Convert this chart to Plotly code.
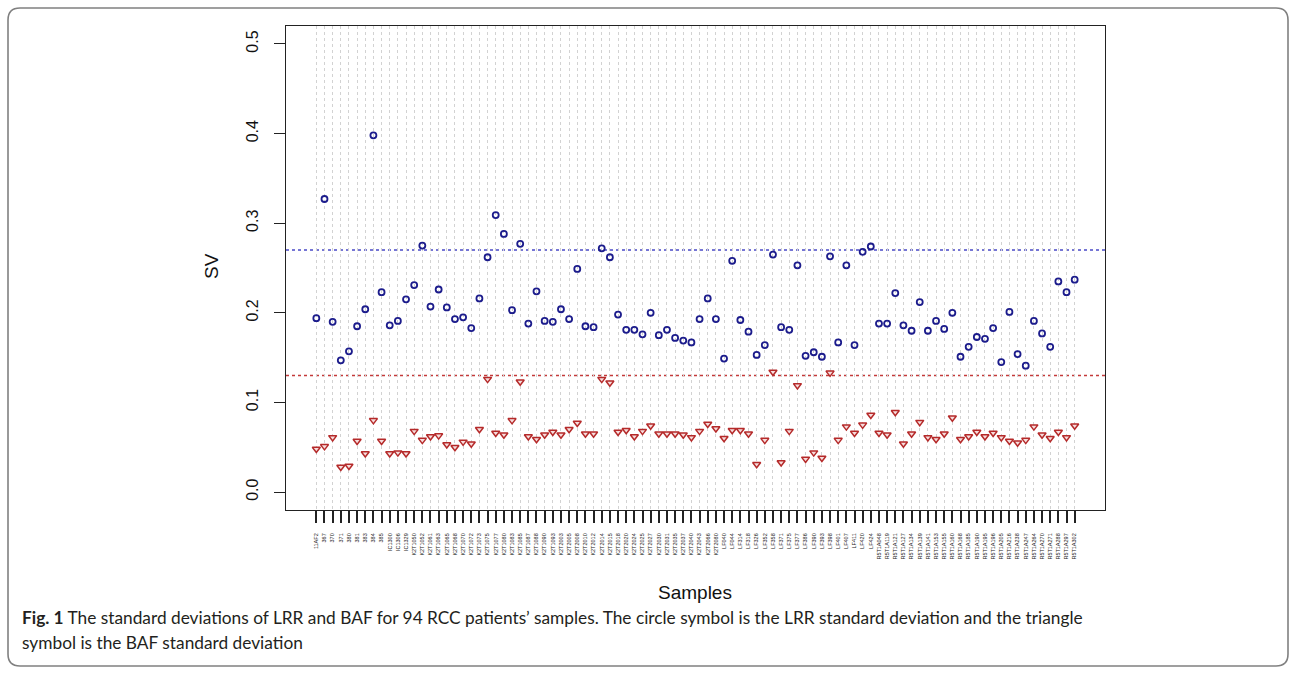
import plotly.graph_objects as go

# Standard deviations per sample (94 RCC patients)
lrr_sd = [0.194, 0.327, 0.190, 0.147, 0.157, 0.185, 0.204, 0.398, 0.223, 0.186,
          0.191, 0.215, 0.231, 0.275, 0.207, 0.226, 0.206, 0.193, 0.195, 0.183,
          0.216, 0.262, 0.309, 0.288, 0.203, 0.277, 0.188, 0.224, 0.191, 0.190,
          0.204, 0.193, 0.249, 0.185, 0.184, 0.272, 0.262, 0.198, 0.181, 0.181,
          0.176, 0.200, 0.175, 0.181, 0.172, 0.169, 0.167, 0.193, 0.216, 0.193,
          0.149, 0.258, 0.192, 0.179, 0.153, 0.164, 0.265, 0.184, 0.181, 0.253,
          0.152, 0.156, 0.151, 0.263, 0.167, 0.253, 0.164, 0.268, 0.274, 0.188,
          0.188, 0.222, 0.186, 0.180, 0.212, 0.180, 0.191, 0.182, 0.200, 0.151,
          0.162, 0.173, 0.171, 0.183, 0.145, 0.201, 0.154, 0.141, 0.191, 0.177,
          0.162, 0.235, 0.223, 0.237]

baf_sd = [0.048, 0.051, 0.061, 0.028, 0.029, 0.057, 0.043, 0.080, 0.057, 0.043,
          0.044, 0.043, 0.068, 0.058, 0.062, 0.063, 0.053, 0.050, 0.056, 0.054,
          0.070, 0.126, 0.066, 0.064, 0.080, 0.123, 0.062, 0.059, 0.064, 0.067,
          0.064, 0.070, 0.077, 0.065, 0.065, 0.126, 0.122, 0.067, 0.069, 0.062,
          0.068, 0.074, 0.065, 0.065, 0.065, 0.064, 0.061, 0.068, 0.076, 0.071,
          0.060, 0.069, 0.069, 0.065, 0.031, 0.058, 0.134, 0.033, 0.068, 0.119,
          0.037, 0.044, 0.038, 0.133, 0.058, 0.073, 0.066, 0.075, 0.086, 0.066,
          0.064, 0.089, 0.054, 0.065, 0.078, 0.061, 0.059, 0.065, 0.083, 0.059,
          0.062, 0.067, 0.062, 0.066, 0.061, 0.057, 0.055, 0.058, 0.073, 0.064,
          0.060, 0.067, 0.061, 0.074]

sample_ids = (
    ["11AF2"]
    + ["367", "370", "371", "380", "381", "383", "384", "385"]
    + ["IC1300", "IC1306", "IC1329"]
    + ["K2T1050", "K2T1052", "K2T1061", "K2T1063", "K2T1065", "K2T1068", "K2T1070",
       "K2T1072", "K2T1073", "K2T1075", "K2T1077", "K2T1080", "K2T1083", "K2T1085",
       "K2T1087", "K2T1088", "K2T1090", "K2T1093", "K2T2003", "K2T2005", "K2T2008",
       "K2T2010", "K2T2012", "K2T2014", "K2T2015", "K2T2018", "K2T2020", "K2T2024",
       "K2T2025", "K2T2027", "K2T2030", "K2T2031", "K2T2035", "K2T2037", "K2T2040",
       "K2T2043", "K2T2066", "K2T2080"]
    + ["LF040", "LF044", "LF314", "LF318", "LF326", "LF352", "LF358", "LF371",
       "LF375", "LF377", "LF386", "LF390", "LF393", "LF398", "LF401", "LF407",
       "LF411", "LF420", "LF424"]
    + ["R5T1A048", "R5T1A119", "R5T1A121", "R5T1A127", "R5T1A134", "R5T1A139",
       "R5T1A141", "R5T1A153", "R5T1A155", "R5T1A160", "R5T1A168", "R5T1A185",
       "R5T1A190", "R5T1A195", "R5T1A196", "R5T1A205", "R5T1A216", "R5T1A238",
       "R5T1A247", "R5T1A264", "R5T1A270", "R5T1A271", "R5T1A288", "R5T1A297",
       "R5T1A302"]
)

lrr_cut = 0.27
baf_cut = 0.13
y_ticks = [0.0, 0.1, 0.2, 0.3, 0.4, 0.5]

x = list(range(1, len(lrr_sd) + 1))

W, H = 1296, 676
PL, PR, PT, PB = 286, 1105, 26, 510  # plot box in pixels
FONT = "Liberation Sans, Arial, sans-serif"
CAPTION_FONT = "Lato, sans-serif"


def px(xp):
    return (xp - PL) / (PR - PL)


def py(yp):
    return (PB - yp) / (PB - PT)


fig = go.Figure()

fig.add_trace(go.Scatter(
    x=x, y=lrr_sd, mode="markers", name="LRR",
    marker=dict(symbol="circle-open", size=6, color="#1c1c8c",
                line=dict(width=1.8, color="#1c1c8c")),
))
fig.add_trace(go.Scatter(
    x=x, y=baf_sd, mode="markers", name="BAF",
    marker=dict(symbol="triangle-down", size=7, color="#f6dcdc",
                line=dict(width=1.5, color="#b52a2a")),
))

shapes = [
    dict(type="line", xref="paper", yref="y", x0=0, x1=1, y0=lrr_cut, y1=lrr_cut,
         line=dict(color="#4a4ac8", width=1.5, dash="dot"), layer="below"),
    dict(type="line", xref="paper", yref="y", x0=0, x1=1, y0=baf_cut, y1=baf_cut,
         line=dict(color="#c43a3a", width=1.5, dash="dot"), layer="below"),
]

# Rounded frame around figure and caption
fx0, fy0, fx1, fy1, r = 8, 8, 1288, 666, 12
path = (
    f"M {px(fx0 + r)},{py(fy0)} L {px(fx1 - r)},{py(fy0)} "
    f"Q {px(fx1)},{py(fy0)} {px(fx1)},{py(fy0 + r)} "
    f"L {px(fx1)},{py(fy1 - r)} Q {px(fx1)},{py(fy1)} {px(fx1 - r)},{py(fy1)} "
    f"L {px(fx0 + r)},{py(fy1)} Q {px(fx0)},{py(fy1)} {px(fx0)},{py(fy1 - r)} "
    f"L {px(fx0)},{py(fy0 + r)} Q {px(fx0)},{py(fy0)} {px(fx0 + r)},{py(fy0)} Z"
)
shapes.append(dict(type="path", xref="paper", yref="paper", path=path,
                   line=dict(color="#808080", width=1.6)))

annotations = [
    dict(text="Samples", xref="paper", yref="paper", x=px(695), y=py(592),
         showarrow=False, font=dict(family=FONT, size=19, color="#111"),
         xanchor="center", yanchor="middle"),
    dict(text="SV", xref="paper", yref="paper", x=px(211), y=py(266),
         showarrow=False, textangle=-90, font=dict(family=FONT, size=19, color="#111"),
         xanchor="center", yanchor="middle"),
    dict(text="<b>Fig. 1</b> The standard deviations of LRR and BAF for 94 RCC patients’ samples. "
              "The circle symbol is the LRR standard deviation and the triangle",
         xref="paper", yref="paper", x=px(20), y=py(617), showarrow=False,
         xanchor="left", yanchor="middle",
         font=dict(family=CAPTION_FONT, size=17.3, color="#231f20")),
    dict(text="symbol is the BAF standard deviation",
         xref="paper", yref="paper", x=px(20), y=py(642), showarrow=False,
         xanchor="left", yanchor="middle",
         font=dict(family=CAPTION_FONT, size=17.3, color="#231f20")),
]

fig.update_layout(
    width=W, height=H, autosize=False,
    margin=dict(l=PL, r=W - PR, t=PT, b=H - PB, pad=0),
    paper_bgcolor="white", plot_bgcolor="white",
    showlegend=False,
    shapes=shapes, annotations=annotations,
    font=dict(family=FONT),
)

fig.update_xaxes(
    range=[1 - 0.04 * 93, 94 + 0.04 * 93],
    tickmode="array", tickvals=x, ticktext=sample_ids,
    tickangle=-90, tickfont=dict(size=5.5, color="#222", family=FONT),
    ticks="outside", ticklen=12, tickwidth=1.6, tickcolor="#222",
    ticklabelstandoff=8,
    showgrid=True, gridcolor="#d2d2d2", griddash="dot", gridwidth=1,
    showline=True, linecolor="#222", linewidth=1.2, mirror=True,
    zeroline=False,
)
fig.update_yaxes(
    range=[-0.02, 0.52],
    tickmode="array", tickvals=y_ticks, ticktext=[f"{v:.1f}" for v in y_ticks],
    tickangle=-90, tickfont=dict(size=16, color="#111", family=FONT),
    ticks="outside", ticklen=11, tickwidth=1, tickcolor="#222",
    ticklabelstandoff=10,
    showgrid=False, zeroline=False,
    showline=True, linecolor="#222", linewidth=1.2, mirror=True,
)

fig.write_html("out.html", config={"displayModeBar": False})
